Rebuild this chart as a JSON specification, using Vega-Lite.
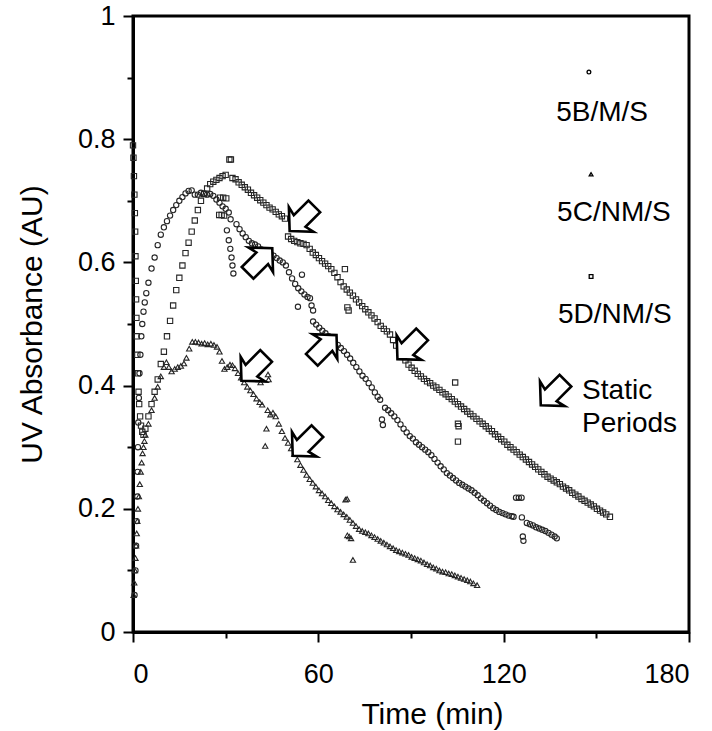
{
"$schema":"https://vega.github.io/schema/vega-lite/v6.json",
"width":556,"height":616,
"autosize":{"type":"none"},
"padding":{"left":133,"top":16,"right":23,"bottom":99},
"background":"white",
"config":{"font":"Liberation Sans","view":{"stroke":"black","strokeWidth":3}},
"datasets":{
"uv":[
{"s":"5B/M/S","t":0.5,"v":0.06},{"s":"5B/M/S","t":0.8,"v":0.1},{"s":"5B/M/S","t":1.0,"v":0.14},{"s":"5B/M/S","t":1.2,"v":0.18},{"s":"5B/M/S","t":1.4,"v":0.22},{"s":"5B/M/S","t":1.5,"v":0.26},{"s":"5B/M/S","t":1.6,"v":0.3},{"s":"5B/M/S","t":1.7,"v":0.34},{"s":"5B/M/S","t":1.9,"v":0.38},{"s":"5B/M/S","t":2.1,"v":0.42},{"s":"5B/M/S","t":2.4,"v":0.45},{"s":"5B/M/S","t":2.7,"v":0.48},{"s":"5B/M/S","t":3.0,"v":0.5},{"s":"5B/M/S","t":3.4,"v":0.52},{"s":"5B/M/S","t":3.8,"v":0.535},{"s":"5B/M/S","t":4.3,"v":0.55},
{"s":"5B/M/S","t":5,"v":0.567},{"s":"5B/M/S","t":6,"v":0.59},{"s":"5B/M/S","t":7,"v":0.608},{"s":"5B/M/S","t":8,"v":0.628},{"s":"5B/M/S","t":9,"v":0.645},{"s":"5B/M/S","t":10,"v":0.657},{"s":"5B/M/S","t":11,"v":0.667},{"s":"5B/M/S","t":12,"v":0.676},{"s":"5B/M/S","t":13,"v":0.685},{"s":"5B/M/S","t":14,"v":0.693},{"s":"5B/M/S","t":15,"v":0.7},{"s":"5B/M/S","t":16,"v":0.706},{"s":"5B/M/S","t":17,"v":0.712},{"s":"5B/M/S","t":18,"v":0.716},{"s":"5B/M/S","t":19,"v":0.717},{"s":"5B/M/S","t":20,"v":0.71},{"s":"5B/M/S","t":21,"v":0.71},{"s":"5B/M/S","t":22,"v":0.713},{"s":"5B/M/S","t":23,"v":0.712},{"s":"5B/M/S","t":24,"v":0.71},{"s":"5B/M/S","t":25,"v":0.711},{"s":"5B/M/S","t":26,"v":0.708},{"s":"5B/M/S","t":27,"v":0.702},{"s":"5B/M/S","t":28,"v":0.697},{"s":"5B/M/S","t":29,"v":0.691},{"s":"5B/M/S","t":30,"v":0.687},{"s":"5B/M/S","t":31,"v":0.681},{"s":"5B/M/S","t":31.6,"v":0.67},
{"s":"5B/M/S","t":30.4,"v":0.652},{"s":"5B/M/S","t":31,"v":0.636},{"s":"5B/M/S","t":31.5,"v":0.622},{"s":"5B/M/S","t":31.9,"v":0.608},{"s":"5B/M/S","t":32.2,"v":0.595},{"s":"5B/M/S","t":32.5,"v":0.582},
{"s":"5B/M/S","t":33.5,"v":0.662},{"s":"5B/M/S","t":34.5,"v":0.654},{"s":"5B/M/S","t":35.5,"v":0.647},{"s":"5B/M/S","t":36.5,"v":0.641},{"s":"5B/M/S","t":37.5,"v":0.635},{"s":"5B/M/S","t":38.5,"v":0.631},{"s":"5B/M/S","t":39.5,"v":0.629},{"s":"5B/M/S","t":40.5,"v":0.626},{"s":"5B/M/S","t":41.5,"v":0.621},{"s":"5B/M/S","t":42.5,"v":0.617},{"s":"5B/M/S","t":43.5,"v":0.616},{"s":"5B/M/S","t":44.5,"v":0.614},{"s":"5B/M/S","t":45.5,"v":0.611},{"s":"5B/M/S","t":46.5,"v":0.607},{"s":"5B/M/S","t":47.5,"v":0.603},{"s":"5B/M/S","t":48.5,"v":0.6},{"s":"5B/M/S","t":49.5,"v":0.595},{"s":"5B/M/S","t":50.5,"v":0.584},{"s":"5B/M/S","t":51.5,"v":0.574},{"s":"5B/M/S","t":52.5,"v":0.565},{"s":"5B/M/S","t":53.5,"v":0.558},{"s":"5B/M/S","t":54.5,"v":0.553},{"s":"5B/M/S","t":55.5,"v":0.548},{"s":"5B/M/S","t":56.5,"v":0.544},{"s":"5B/M/S","t":57.3,"v":0.542},
{"s":"5B/M/S","t":53.4,"v":0.528},{"s":"5B/M/S","t":54.7,"v":0.58},{"s":"5B/M/S","t":57.8,"v":0.53},{"s":"5B/M/S","t":58.3,"v":0.522},
{"s":"5B/M/S","t":58.3,"v":0.504},{"s":"5B/M/S","t":59.3,"v":0.499},{"s":"5B/M/S","t":60.3,"v":0.494},{"s":"5B/M/S","t":61.3,"v":0.489},{"s":"5B/M/S","t":62.3,"v":0.485},{"s":"5B/M/S","t":63.3,"v":0.48},{"s":"5B/M/S","t":64.3,"v":0.476},{"s":"5B/M/S","t":65.3,"v":0.47},{"s":"5B/M/S","t":66.3,"v":0.466},{"s":"5B/M/S","t":67.3,"v":0.461},{"s":"5B/M/S","t":68.3,"v":0.456},{"s":"5B/M/S","t":69.3,"v":0.45},{"s":"5B/M/S","t":70.3,"v":0.444},{"s":"5B/M/S","t":71.3,"v":0.437},{"s":"5B/M/S","t":72.3,"v":0.43},{"s":"5B/M/S","t":73.3,"v":0.423},{"s":"5B/M/S","t":74.3,"v":0.416},{"s":"5B/M/S","t":75.3,"v":0.411},{"s":"5B/M/S","t":76.3,"v":0.404},{"s":"5B/M/S","t":77.3,"v":0.397},{"s":"5B/M/S","t":78.3,"v":0.389},{"s":"5B/M/S","t":79.2,"v":0.382},{"s":"5B/M/S","t":80,"v":0.377},
{"s":"5B/M/S","t":80.6,"v":0.345},{"s":"5B/M/S","t":80.9,"v":0.336},
{"s":"5B/M/S","t":81.6,"v":0.364},{"s":"5B/M/S","t":82.6,"v":0.36},{"s":"5B/M/S","t":83.6,"v":0.355},{"s":"5B/M/S","t":84.6,"v":0.35},{"s":"5B/M/S","t":85.6,"v":0.344},{"s":"5B/M/S","t":86.6,"v":0.337},{"s":"5B/M/S","t":87.6,"v":0.33},{"s":"5B/M/S","t":88.6,"v":0.324},{"s":"5B/M/S","t":89.6,"v":0.318},{"s":"5B/M/S","t":90.6,"v":0.314},{"s":"5B/M/S","t":91.6,"v":0.308},{"s":"5B/M/S","t":92.6,"v":0.304},{"s":"5B/M/S","t":93.6,"v":0.3},{"s":"5B/M/S","t":94.6,"v":0.296},{"s":"5B/M/S","t":95.6,"v":0.292},{"s":"5B/M/S","t":96.6,"v":0.287},{"s":"5B/M/S","t":97.6,"v":0.281},{"s":"5B/M/S","t":98.6,"v":0.275},{"s":"5B/M/S","t":99.6,"v":0.269},{"s":"5B/M/S","t":100.6,"v":0.264},{"s":"5B/M/S","t":101.6,"v":0.258},{"s":"5B/M/S","t":102.6,"v":0.254},{"s":"5B/M/S","t":103.6,"v":0.25},{"s":"5B/M/S","t":104.6,"v":0.246},{"s":"5B/M/S","t":105.6,"v":0.242},{"s":"5B/M/S","t":106.6,"v":0.239},{"s":"5B/M/S","t":107.6,"v":0.236},{"s":"5B/M/S","t":108.6,"v":0.233},{"s":"5B/M/S","t":109.6,"v":0.23},{"s":"5B/M/S","t":110.6,"v":0.226},{"s":"5B/M/S","t":111.6,"v":0.222},{"s":"5B/M/S","t":112.6,"v":0.217},{"s":"5B/M/S","t":113.6,"v":0.213},{"s":"5B/M/S","t":114.6,"v":0.209},{"s":"5B/M/S","t":115.6,"v":0.205},{"s":"5B/M/S","t":116.6,"v":0.201},{"s":"5B/M/S","t":117.6,"v":0.198},{"s":"5B/M/S","t":118.6,"v":0.195},{"s":"5B/M/S","t":119.6,"v":0.193},{"s":"5B/M/S","t":120.6,"v":0.191},{"s":"5B/M/S","t":121.6,"v":0.189},{"s":"5B/M/S","t":122.6,"v":0.188},{"s":"5B/M/S","t":123.2,"v":0.187},
{"s":"5B/M/S","t":124,"v":0.218},{"s":"5B/M/S","t":124.9,"v":0.218},{"s":"5B/M/S","t":125.8,"v":0.218},{"s":"5B/M/S","t":125.9,"v":0.186},{"s":"5B/M/S","t":126.2,"v":0.155},{"s":"5B/M/S","t":126.4,"v":0.148},
{"s":"5B/M/S","t":127.5,"v":0.177},{"s":"5B/M/S","t":128.5,"v":0.175},{"s":"5B/M/S","t":129.5,"v":0.173},{"s":"5B/M/S","t":130.5,"v":0.17},{"s":"5B/M/S","t":131.5,"v":0.168},{"s":"5B/M/S","t":132.5,"v":0.166},{"s":"5B/M/S","t":133.5,"v":0.164},{"s":"5B/M/S","t":134.5,"v":0.161},{"s":"5B/M/S","t":135.5,"v":0.158},{"s":"5B/M/S","t":136.5,"v":0.155},{"s":"5B/M/S","t":137.2,"v":0.152},
{"s":"5C/NM/S","t":0.2,"v":0.06},{"s":"5C/NM/S","t":0.4,"v":0.08},{"s":"5C/NM/S","t":0.6,"v":0.1},{"s":"5C/NM/S","t":0.8,"v":0.12},{"s":"5C/NM/S","t":1.0,"v":0.14},{"s":"5C/NM/S","t":1.2,"v":0.16},{"s":"5C/NM/S","t":1.4,"v":0.18},{"s":"5C/NM/S","t":1.6,"v":0.2},{"s":"5C/NM/S","t":1.9,"v":0.22},{"s":"5C/NM/S","t":2.2,"v":0.24},{"s":"5C/NM/S","t":2.5,"v":0.26},{"s":"5C/NM/S","t":2.8,"v":0.275},{"s":"5C/NM/S","t":3.1,"v":0.29},{"s":"5C/NM/S","t":3.4,"v":0.3},{"s":"5C/NM/S","t":3.7,"v":0.31},
{"s":"5C/NM/S","t":4,"v":0.32},{"s":"5C/NM/S","t":5,"v":0.338},{"s":"5C/NM/S","t":6,"v":0.36},{"s":"5C/NM/S","t":7,"v":0.38},{"s":"5C/NM/S","t":8,"v":0.398},{"s":"5C/NM/S","t":9,"v":0.415},{"s":"5C/NM/S","t":10,"v":0.43},{"s":"5C/NM/S","t":10.8,"v":0.438},{"s":"5C/NM/S","t":11.6,"v":0.43},{"s":"5C/NM/S","t":12.5,"v":0.423},{"s":"5C/NM/S","t":13.5,"v":0.427},{"s":"5C/NM/S","t":14.5,"v":0.43},{"s":"5C/NM/S","t":15.5,"v":0.432},{"s":"5C/NM/S","t":16.5,"v":0.436},{"s":"5C/NM/S","t":17.3,"v":0.445},{"s":"5C/NM/S","t":18.2,"v":0.46},{"s":"5C/NM/S","t":19.2,"v":0.471},{"s":"5C/NM/S","t":20.2,"v":0.471},{"s":"5C/NM/S","t":21.2,"v":0.47},{"s":"5C/NM/S","t":22.2,"v":0.468},{"s":"5C/NM/S","t":23.2,"v":0.469},{"s":"5C/NM/S","t":24.2,"v":0.467},{"s":"5C/NM/S","t":25.2,"v":0.468},{"s":"5C/NM/S","t":26.2,"v":0.466},{"s":"5C/NM/S","t":27.2,"v":0.463},{"s":"5C/NM/S","t":28,"v":0.455},{"s":"5C/NM/S","t":28.8,"v":0.44},{"s":"5C/NM/S","t":29.6,"v":0.427},{"s":"5C/NM/S","t":30.5,"v":0.43},{"s":"5C/NM/S","t":31.4,"v":0.434},{"s":"5C/NM/S","t":32.2,"v":0.433},{"s":"5C/NM/S","t":33,"v":0.428},{"s":"5C/NM/S","t":34,"v":0.42},{"s":"5C/NM/S","t":35,"v":0.413},{"s":"5C/NM/S","t":36,"v":0.405},{"s":"5C/NM/S","t":37,"v":0.398},{"s":"5C/NM/S","t":38,"v":0.392},{"s":"5C/NM/S","t":39,"v":0.386},{"s":"5C/NM/S","t":40,"v":0.379},{"s":"5C/NM/S","t":41,"v":0.373},{"s":"5C/NM/S","t":41.8,"v":0.369},
{"s":"5C/NM/S","t":41.3,"v":0.405},{"s":"5C/NM/S","t":43.7,"v":0.418},{"s":"5C/NM/S","t":43.9,"v":0.41},{"s":"5C/NM/S","t":43.6,"v":0.36},{"s":"5C/NM/S","t":43.2,"v":0.33},{"s":"5C/NM/S","t":42.8,"v":0.302},
{"s":"5C/NM/S","t":44.5,"v":0.353},{"s":"5C/NM/S","t":45.3,"v":0.356},{"s":"5C/NM/S","t":46.2,"v":0.35},{"s":"5C/NM/S","t":47.2,"v":0.338},{"s":"5C/NM/S","t":48.2,"v":0.326},{"s":"5C/NM/S","t":49.2,"v":0.315},{"s":"5C/NM/S","t":50.2,"v":0.307},{"s":"5C/NM/S","t":51.2,"v":0.298},{"s":"5C/NM/S","t":52.2,"v":0.289},{"s":"5C/NM/S","t":53.2,"v":0.28},{"s":"5C/NM/S","t":54.2,"v":0.271},{"s":"5C/NM/S","t":55.2,"v":0.263},{"s":"5C/NM/S","t":56.2,"v":0.255},{"s":"5C/NM/S","t":57.2,"v":0.248},{"s":"5C/NM/S","t":58.2,"v":0.242},{"s":"5C/NM/S","t":59.2,"v":0.236},{"s":"5C/NM/S","t":60.2,"v":0.23},{"s":"5C/NM/S","t":61.2,"v":0.225},{"s":"5C/NM/S","t":62.2,"v":0.22},{"s":"5C/NM/S","t":63.2,"v":0.214},{"s":"5C/NM/S","t":64.2,"v":0.209},{"s":"5C/NM/S","t":65.2,"v":0.204},{"s":"5C/NM/S","t":66.2,"v":0.199},{"s":"5C/NM/S","t":67.2,"v":0.195},{"s":"5C/NM/S","t":68.2,"v":0.191},{"s":"5C/NM/S","t":69.2,"v":0.187},{"s":"5C/NM/S","t":70.2,"v":0.182},{"s":"5C/NM/S","t":71.2,"v":0.177},{"s":"5C/NM/S","t":72.2,"v":0.172},{"s":"5C/NM/S","t":73.2,"v":0.167},{"s":"5C/NM/S","t":74.2,"v":0.164},{"s":"5C/NM/S","t":75.2,"v":0.162},{"s":"5C/NM/S","t":76.2,"v":0.16},{"s":"5C/NM/S","t":77.2,"v":0.157},{"s":"5C/NM/S","t":78.2,"v":0.154},{"s":"5C/NM/S","t":79.2,"v":0.151},{"s":"5C/NM/S","t":80.2,"v":0.148},{"s":"5C/NM/S","t":81.2,"v":0.145},{"s":"5C/NM/S","t":82.2,"v":0.142},{"s":"5C/NM/S","t":83.2,"v":0.139},{"s":"5C/NM/S","t":84.2,"v":0.136},{"s":"5C/NM/S","t":85.2,"v":0.133},{"s":"5C/NM/S","t":86.2,"v":0.131},{"s":"5C/NM/S","t":87.2,"v":0.129},{"s":"5C/NM/S","t":88.2,"v":0.127},{"s":"5C/NM/S","t":89.2,"v":0.125},{"s":"5C/NM/S","t":90.2,"v":0.122},{"s":"5C/NM/S","t":91.2,"v":0.12},{"s":"5C/NM/S","t":92.2,"v":0.118},{"s":"5C/NM/S","t":93.2,"v":0.116},{"s":"5C/NM/S","t":94.2,"v":0.113},{"s":"5C/NM/S","t":95.2,"v":0.11},{"s":"5C/NM/S","t":96.2,"v":0.108},{"s":"5C/NM/S","t":97.2,"v":0.105},{"s":"5C/NM/S","t":98.2,"v":0.103},{"s":"5C/NM/S","t":99.2,"v":0.1},{"s":"5C/NM/S","t":100.2,"v":0.098},{"s":"5C/NM/S","t":101.2,"v":0.097},{"s":"5C/NM/S","t":102.2,"v":0.095},{"s":"5C/NM/S","t":103.2,"v":0.094},{"s":"5C/NM/S","t":104.2,"v":0.092},{"s":"5C/NM/S","t":105.2,"v":0.09},{"s":"5C/NM/S","t":106.2,"v":0.088},{"s":"5C/NM/S","t":107.2,"v":0.086},{"s":"5C/NM/S","t":108.2,"v":0.084},{"s":"5C/NM/S","t":109.2,"v":0.082},{"s":"5C/NM/S","t":110.2,"v":0.079},{"s":"5C/NM/S","t":111.4,"v":0.076},
{"s":"5C/NM/S","t":68.8,"v":0.215},{"s":"5C/NM/S","t":69.3,"v":0.216},{"s":"5C/NM/S","t":69.4,"v":0.157},{"s":"5C/NM/S","t":70,"v":0.155},{"s":"5C/NM/S","t":70.6,"v":0.152},{"s":"5C/NM/S","t":71.2,"v":0.117},
{"s":"5D/NM/S","t":0,"v":0.79},{"s":"5D/NM/S","t":0.15,"v":0.77},{"s":"5D/NM/S","t":0.3,"v":0.74},{"s":"5D/NM/S","t":0.45,"v":0.71},{"s":"5D/NM/S","t":0.6,"v":0.68},{"s":"5D/NM/S","t":0.7,"v":0.65},{"s":"5D/NM/S","t":0.8,"v":0.61},{"s":"5D/NM/S","t":0.9,"v":0.57},{"s":"5D/NM/S","t":1.0,"v":0.54},{"s":"5D/NM/S","t":1.1,"v":0.51},{"s":"5D/NM/S","t":1.2,"v":0.48},{"s":"5D/NM/S","t":1.4,"v":0.45},{"s":"5D/NM/S","t":1.6,"v":0.42},{"s":"5D/NM/S","t":1.8,"v":0.39},{"s":"5D/NM/S","t":2.0,"v":0.37},{"s":"5D/NM/S","t":2.3,"v":0.35},{"s":"5D/NM/S","t":2.6,"v":0.335},{"s":"5D/NM/S","t":3.0,"v":0.325},{"s":"5D/NM/S","t":3.4,"v":0.32},
{"s":"5D/NM/S","t":4,"v":0.33},{"s":"5D/NM/S","t":5,"v":0.35},{"s":"5D/NM/S","t":6,"v":0.37},{"s":"5D/NM/S","t":7,"v":0.39},{"s":"5D/NM/S","t":8,"v":0.41},{"s":"5D/NM/S","t":9,"v":0.435},{"s":"5D/NM/S","t":10,"v":0.455},{"s":"5D/NM/S","t":11,"v":0.48},{"s":"5D/NM/S","t":12,"v":0.505},{"s":"5D/NM/S","t":13,"v":0.53},{"s":"5D/NM/S","t":14,"v":0.555},{"s":"5D/NM/S","t":15,"v":0.575},{"s":"5D/NM/S","t":16,"v":0.595},{"s":"5D/NM/S","t":17,"v":0.615},{"s":"5D/NM/S","t":18,"v":0.632},{"s":"5D/NM/S","t":19,"v":0.65},{"s":"5D/NM/S","t":20,"v":0.668},{"s":"5D/NM/S","t":21,"v":0.685},{"s":"5D/NM/S","t":22,"v":0.7},{"s":"5D/NM/S","t":23,"v":0.711},{"s":"5D/NM/S","t":24,"v":0.72},{"s":"5D/NM/S","t":25,"v":0.727},{"s":"5D/NM/S","t":26,"v":0.731},{"s":"5D/NM/S","t":27,"v":0.734},{"s":"5D/NM/S","t":28,"v":0.737},{"s":"5D/NM/S","t":29,"v":0.74},{"s":"5D/NM/S","t":30,"v":0.742},
{"s":"5D/NM/S","t":31.2,"v":0.767},{"s":"5D/NM/S","t":31.7,"v":0.767},{"s":"5D/NM/S","t":28.2,"v":0.705},{"s":"5D/NM/S","t":29.2,"v":0.705},{"s":"5D/NM/S","t":30.2,"v":0.704},{"s":"5D/NM/S","t":27.9,"v":0.677},{"s":"5D/NM/S","t":28.7,"v":0.677},{"s":"5D/NM/S","t":29.5,"v":0.676},
{"s":"5D/NM/S","t":32.2,"v":0.737},{"s":"5D/NM/S","t":33.2,"v":0.735},{"s":"5D/NM/S","t":34.2,"v":0.73},{"s":"5D/NM/S","t":35.2,"v":0.726},{"s":"5D/NM/S","t":36.2,"v":0.722},{"s":"5D/NM/S","t":37.2,"v":0.718},{"s":"5D/NM/S","t":38.2,"v":0.713},{"s":"5D/NM/S","t":39.2,"v":0.709},{"s":"5D/NM/S","t":40.2,"v":0.705},{"s":"5D/NM/S","t":41.2,"v":0.701},{"s":"5D/NM/S","t":42.2,"v":0.697},{"s":"5D/NM/S","t":43.2,"v":0.693},{"s":"5D/NM/S","t":44.2,"v":0.689},{"s":"5D/NM/S","t":45.2,"v":0.686},{"s":"5D/NM/S","t":46.2,"v":0.682},{"s":"5D/NM/S","t":47.2,"v":0.678},{"s":"5D/NM/S","t":48.2,"v":0.675},{"s":"5D/NM/S","t":49.2,"v":0.671},
{"s":"5D/NM/S","t":50.2,"v":0.642},{"s":"5D/NM/S","t":51.2,"v":0.638},{"s":"5D/NM/S","t":52.2,"v":0.635},{"s":"5D/NM/S","t":53.2,"v":0.633},{"s":"5D/NM/S","t":54.2,"v":0.631},{"s":"5D/NM/S","t":55.2,"v":0.63},{"s":"5D/NM/S","t":56.2,"v":0.628},{"s":"5D/NM/S","t":57.2,"v":0.622},{"s":"5D/NM/S","t":58.2,"v":0.616},{"s":"5D/NM/S","t":59.2,"v":0.612},{"s":"5D/NM/S","t":60.2,"v":0.607},{"s":"5D/NM/S","t":61.2,"v":0.602},{"s":"5D/NM/S","t":62.2,"v":0.598},{"s":"5D/NM/S","t":63.2,"v":0.594},{"s":"5D/NM/S","t":64.2,"v":0.589},{"s":"5D/NM/S","t":65.2,"v":0.583},{"s":"5D/NM/S","t":66.2,"v":0.576},{"s":"5D/NM/S","t":67.2,"v":0.568},{"s":"5D/NM/S","t":68.2,"v":0.561},{"s":"5D/NM/S","t":69.2,"v":0.556},{"s":"5D/NM/S","t":70.2,"v":0.551},{"s":"5D/NM/S","t":71.2,"v":0.546},{"s":"5D/NM/S","t":72.2,"v":0.54},{"s":"5D/NM/S","t":73.2,"v":0.535},{"s":"5D/NM/S","t":74.2,"v":0.529},{"s":"5D/NM/S","t":75.2,"v":0.524},{"s":"5D/NM/S","t":76.2,"v":0.519},{"s":"5D/NM/S","t":77.2,"v":0.514},{"s":"5D/NM/S","t":78.2,"v":0.509},{"s":"5D/NM/S","t":79.2,"v":0.503},{"s":"5D/NM/S","t":80.2,"v":0.497},{"s":"5D/NM/S","t":81.2,"v":0.492},{"s":"5D/NM/S","t":82.2,"v":0.488},{"s":"5D/NM/S","t":83.2,"v":0.483},{"s":"5D/NM/S","t":84.2,"v":0.474},{"s":"5D/NM/S","t":85.2,"v":0.465},{"s":"5D/NM/S","t":86.2,"v":0.456},{"s":"5D/NM/S","t":87.2,"v":0.448},{"s":"5D/NM/S","t":88.2,"v":0.441},{"s":"5D/NM/S","t":89.2,"v":0.434},{"s":"5D/NM/S","t":90.2,"v":0.429},{"s":"5D/NM/S","t":91.2,"v":0.424},{"s":"5D/NM/S","t":92.2,"v":0.419},{"s":"5D/NM/S","t":93.2,"v":0.415},{"s":"5D/NM/S","t":94.2,"v":0.411},{"s":"5D/NM/S","t":95.2,"v":0.407},{"s":"5D/NM/S","t":96.2,"v":0.404},{"s":"5D/NM/S","t":97.2,"v":0.4},{"s":"5D/NM/S","t":98.2,"v":0.397},{"s":"5D/NM/S","t":99.2,"v":0.393},{"s":"5D/NM/S","t":100.2,"v":0.389},{"s":"5D/NM/S","t":101.2,"v":0.386},{"s":"5D/NM/S","t":102.2,"v":0.382},{"s":"5D/NM/S","t":103.2,"v":0.378},{"s":"5D/NM/S","t":104.2,"v":0.374},{"s":"5D/NM/S","t":105.2,"v":0.37},{"s":"5D/NM/S","t":106.2,"v":0.366},{"s":"5D/NM/S","t":107.2,"v":0.362},{"s":"5D/NM/S","t":108.2,"v":0.358},{"s":"5D/NM/S","t":109.2,"v":0.354},{"s":"5D/NM/S","t":110.2,"v":0.35},{"s":"5D/NM/S","t":111.2,"v":0.346},{"s":"5D/NM/S","t":112.2,"v":0.342},{"s":"5D/NM/S","t":113.2,"v":0.338},{"s":"5D/NM/S","t":114.2,"v":0.334},{"s":"5D/NM/S","t":115.2,"v":0.33},{"s":"5D/NM/S","t":116.2,"v":0.326},{"s":"5D/NM/S","t":117.2,"v":0.321},{"s":"5D/NM/S","t":118.2,"v":0.317},{"s":"5D/NM/S","t":119.2,"v":0.313},{"s":"5D/NM/S","t":120.2,"v":0.309},{"s":"5D/NM/S","t":121.2,"v":0.304},{"s":"5D/NM/S","t":122.2,"v":0.3},{"s":"5D/NM/S","t":123.2,"v":0.296},{"s":"5D/NM/S","t":124.2,"v":0.292},{"s":"5D/NM/S","t":125.2,"v":0.288},{"s":"5D/NM/S","t":126.2,"v":0.284},{"s":"5D/NM/S","t":127.2,"v":0.28},{"s":"5D/NM/S","t":128.2,"v":0.276},{"s":"5D/NM/S","t":129.2,"v":0.272},{"s":"5D/NM/S","t":130.2,"v":0.268},{"s":"5D/NM/S","t":131.2,"v":0.264},{"s":"5D/NM/S","t":132.2,"v":0.26},{"s":"5D/NM/S","t":133.2,"v":0.256},{"s":"5D/NM/S","t":134.2,"v":0.252},{"s":"5D/NM/S","t":135.2,"v":0.249},{"s":"5D/NM/S","t":136.2,"v":0.246},{"s":"5D/NM/S","t":137.2,"v":0.243},{"s":"5D/NM/S","t":138.2,"v":0.24},{"s":"5D/NM/S","t":139.2,"v":0.236},{"s":"5D/NM/S","t":140.2,"v":0.233},{"s":"5D/NM/S","t":141.2,"v":0.23},{"s":"5D/NM/S","t":142.2,"v":0.226},{"s":"5D/NM/S","t":143.2,"v":0.223},{"s":"5D/NM/S","t":144.2,"v":0.22},{"s":"5D/NM/S","t":145.2,"v":0.216},{"s":"5D/NM/S","t":146.2,"v":0.213},{"s":"5D/NM/S","t":147.2,"v":0.21},{"s":"5D/NM/S","t":148.2,"v":0.207},{"s":"5D/NM/S","t":149.2,"v":0.204},{"s":"5D/NM/S","t":150.2,"v":0.2},{"s":"5D/NM/S","t":151.2,"v":0.197},{"s":"5D/NM/S","t":152.2,"v":0.194},{"s":"5D/NM/S","t":153.2,"v":0.191},{"s":"5D/NM/S","t":154.4,"v":0.187},
{"s":"5D/NM/S","t":68.6,"v":0.589},{"s":"5D/NM/S","t":69.4,"v":0.527},{"s":"5D/NM/S","t":69.8,"v":0.522},{"s":"5D/NM/S","t":104.3,"v":0.405},{"s":"5D/NM/S","t":105.2,"v":0.338},{"s":"5D/NM/S","t":105.4,"v":0.334},{"s":"5D/NM/S","t":105.2,"v":0.309}
],
"legendMarks":[
{"s":"5B/M/S","t":147.6,"v":0.909},{"s":"5C/NM/S","t":148.3,"v":0.743},{"s":"5D/NM/S","t":148.3,"v":0.577}
],
"legendText":[
{"label":"5B/M/S","t":137,"v":0.842},{"label":"5C/NM/S","t":137.3,"v":0.68},{"label":"5D/NM/S","t":137.6,"v":0.515},{"label":"Static","t":145.4,"v":0.391},{"label":"Periods","t":145.4,"v":0.338}
],
"arrows":[
{"dir":"SW","t":55.7,"v":0.676},{"dir":"NE","t":40.1,"v":0.598},{"dir":"NE","t":60.9,"v":0.457},{"dir":"SW","t":40.1,"v":0.433},{"dir":"SW","t":56.7,"v":0.311},{"dir":"SW","t":90.6,"v":0.468},{"dir":"SW","t":137,"v":0.393}
]
},
"encoding":{
"x":{"field":"t","type":"quantitative","scale":{"domain":[0,180],"nice":false,"zero":false},
"axis":{"title":"Time (min)","values":[0,30,60,90,120,150,180],"labelExpr":"datum.value % 60 === 0 ? datum.label : ''","tickSize":{"condition":{"test":"datum.value % 60 !== 0","value":6},"value":10},"grid":false,"domainWidth":3,"domainColor":"black","tickColor":"black","tickWidth":2,"labelFont":"Liberation Sans","labelFontSize":27,"labelColor":"black","labelPadding":19,"titleFont":"Liberation Sans","titleFontSize":30,"titleFontWeight":"normal","titleColor":"black","titleX":299,"titleY":91,"titleBaseline":"alphabetic"}},
"y":{"field":"v","type":"quantitative","scale":{"domain":[0,1],"nice":false,"zero":false},
"axis":{"title":"UV Absorbance (AU)","values":[0,0.1,0.2,0.3,0.4,0.5,0.6,0.7,0.8,0.9,1],"format":"~g","labelExpr":"round(datum.value*10) % 2 === 0 ? datum.label : ''","tickSize":{"condition":{"test":"round(datum.value*10) % 2 === 1","value":6},"value":10},"grid":false,"domainWidth":3,"domainColor":"black","tickColor":"black","tickWidth":2,"labelFont":"Liberation Sans","labelFontSize":27,"labelColor":"black","labelPadding":8,"titleFont":"Liberation Sans","titleFontSize":30,"titleFontWeight":"normal","titleColor":"black","titleX":-92,"titleY":308,"titleAngle":-90,"titleAlign":"center","titleBaseline":"alphabetic"}}
},
"layer":[
{"data":{"name":"uv"},"mark":{"type":"point","filled":false,"stroke":"#262626","strokeWidth":1.1,"size":28,"opacity":1},
"encoding":{"shape":{"field":"s","type":"nominal","scale":{"domain":["5B/M/S","5C/NM/S","5D/NM/S"],"range":["circle","triangle-up","square"]},"legend":null}}},
{"data":{"name":"legendMarks"},"mark":{"type":"point","filled":false,"stroke":"black","strokeWidth":1.3,"size":14,"opacity":1},
"encoding":{"shape":{"field":"s","type":"nominal","scale":{"domain":["5B/M/S","5C/NM/S","5D/NM/S"],"range":["circle","triangle-up","square"]},"legend":null}}},
{"data":{"name":"arrows"},"mark":{"type":"point","filled":true,"fill":"white","stroke":"black","strokeWidth":2.6,"size":1900,"opacity":1},
"encoding":{"shape":{"field":"dir","type":"nominal","scale":{"domain":["SW","NE"],"range":["M-0.707,0.707L-0.742,-0.389L-0.516,-0.021L0.156,-0.693L0.693,-0.156L0.021,0.516L0.389,0.742Z","M0.707,-0.707L0.742,0.389L0.516,0.021L-0.156,0.693L-0.693,0.156L-0.021,-0.516L-0.389,-0.742Z"]},"legend":null}}},
{"data":{"name":"legendText"},"mark":{"type":"text","align":"left","baseline":"middle","font":"Liberation Sans","fontSize":28,"color":"black"},
"encoding":{"text":{"field":"label","type":"nominal"}}}
],
"resolve":{"scale":{"shape":"independent"}}
}
